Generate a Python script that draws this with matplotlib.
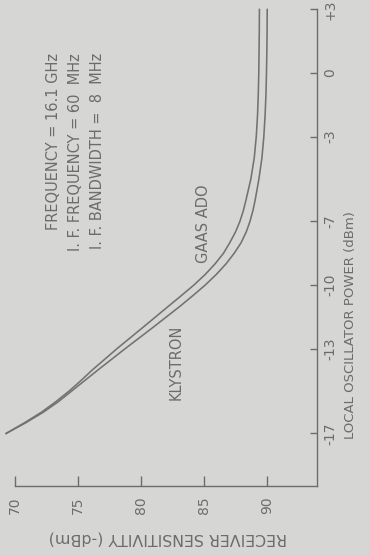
import matplotlib
matplotlib.use("Agg")
import matplotlib.pyplot as plt

# Local oscillator power (dBm) and receiver sensitivity (-dBm) for each source
lo_power = [-17, -16.5, -16, -15.5, -15, -14.5, -14, -13, -12, -11, -10.5, -10,
            -9.5, -9, -8.5, -8, -7.5, -7, -6.5, -6, -5, -4, -3, -2, -1, 0, 1, 2, 3]
gaas_ado = [69.3, 70.75, 72.1, 73.25, 74.3, 75.25, 76.15, 78.1, 80.15, 82.18,
            83.2, 84.2, 85.1, 85.88, 86.55, 87.05, 87.5, 87.85, 88.12, 88.33,
            88.72, 88.99, 89.15, 89.25, 89.31, 89.35, 89.37, 89.39, 89.4]
klystron = [69.3, 70.85, 72.25, 73.45, 74.5, 75.55, 76.6, 78.75, 80.95, 83.1,
            84.12, 85.1, 85.98, 86.75, 87.4, 87.95, 88.35, 88.65, 88.88, 89.06,
            89.36, 89.6, 89.75, 89.85, 89.92, 89.96, 89.99, 90.01, 90.02]

sens_ticks = [70, 75, 80, 85, 90]
sens_labels = ["70", "75", "80", "85", "90"]
lo_ticks = [-17, -13, -10, -7, -3, 0, 3]
lo_labels = ["-17", "-13", "-10", "-7", "-3", "0", "+3"]

notes = ["FREQUENCY = 16.1 GHz",
         "I. F. FREQUENCY = 60  MHz",
         "I. F. BANDWIDTH =  8  MHz"]

BG = "#d6d6d4"
INK = "#6c6c6c"
LINE = "#727272"

fig = plt.figure(figsize=(3.69, 5.55), dpi=100, facecolor=BG)
ax = fig.add_axes([5 / 369, 69 / 555, 312 / 369, 481 / 555], facecolor=BG)

# The sheet is turned on its side: sensitivity runs along the bottom,
# oscillator power up the right-hand edge.
ax.plot(gaas_ado, lo_power, color=LINE, lw=1.15, clip_on=False)
ax.plot(klystron, lo_power, color=LINE, lw=1.15, clip_on=False)

ax.set_xlim(69.21, 93.97)
ax.set_ylim(-19.48, 3.21)

for side in ("left", "top"):
    ax.spines[side].set_visible(False)
for side in ("bottom", "right"):
    ax.spines[side].set_color(INK)
    ax.spines[side].set_linewidth(1.0)
ax.spines["bottom"].set_bounds(70, 93.97)
ax.spines["right"].set_bounds(-19.48, 3)

ax.set_xticks(sens_ticks)
ax.set_xticklabels(sens_labels)
ax.tick_params(axis="x", direction="in", length=7.5, width=1.0, color=INK,
               labelcolor=INK, labelsize=10, pad=7.5, labelrotation=90)

ax.yaxis.tick_right()
ax.set_yticks(lo_ticks)
ax.set_yticklabels(lo_labels)
ax.tick_params(axis="y", direction="in", length=5, width=1.0, color=INK,
               labelcolor=INK, labelsize=10, pad=4.5, labelrotation=90)
for lab in ax.get_yticklabels():
    lab.set_va("center")

# Axis titles
ax.text(96.59, -11.89, "LOCAL OSCILLATOR POWER (dBm)", rotation=90,
        ha="center", va="center", color=INK, fontsize=9.5, clip_on=False)
fig.text(168 / 369, 1 - 538 / 555, "RECEIVER SENSITIVITY (-dBm)", rotation=180,
         ha="center", va="center", color=INK, fontsize=11.4)

# Operating conditions
for xpos, line in zip([73.02, 74.84, 76.55], notes):
    ax.text(xpos, 0.94, line, rotation=90, rotation_mode="anchor",
            ha="right", va="center", color=INK, fontsize=10.5)

# Curve labels
ax.text(85.0, -7.12, "GAAS ADO", rotation=90, ha="center", va="center",
        color=INK, fontsize=10.5)
ax.text(82.78, -13.63, "KLYSTRON", rotation=90, ha="center", va="center",
        color=INK, fontsize=10.5)

fig.savefig("out.png", dpi=100, facecolor=BG)
